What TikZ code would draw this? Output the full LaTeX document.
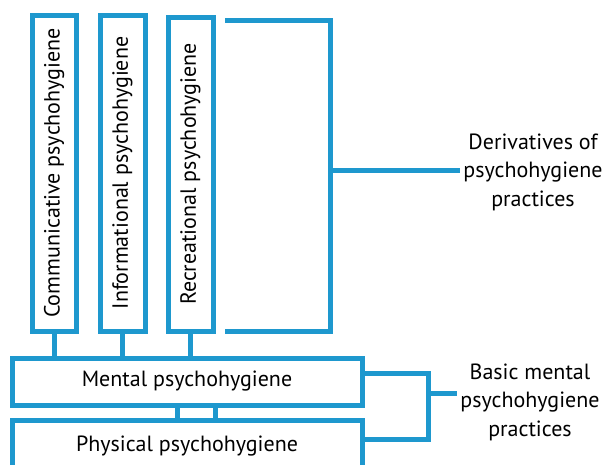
\documentclass[tikz,border=0pt]{standalone}
\usepackage{fontspec}
\setmainfont{PT Sans}
\usepackage{xcolor}
\usepackage{tikz}
\usetikzlibrary{positioning}

\definecolor{frameblue}{RGB}{30,152,206}

\tikzset{
 box/.style={draw=frameblue, line width=5pt, fill=white, inner sep=0pt},
 link/.style={draw=frameblue, line width=5pt},
 caption/.style={align=center, font=\fontsize{22}{28.5}\selectfont}
}

\begin{document}
\begin{tikzpicture}[x=1pt, y=-1pt]
% page: 608 x 464, y runs downwards
\path[use as bounding box, clip] (0,0) rectangle (608,464);

% Derivative practices (upright boxes)
\node[box, minimum width=44, minimum height=316] (comm) at (54,173)
 {\rotatebox{90}{\fontsize{22}{24}\selectfont Communicative psychohygiene}};
\node[box, minimum width=45, minimum height=316] (info) at (122.5,173)
 {\rotatebox{90}{\fontsize{22}{24}\selectfont Informational psychohygiene}};
\node[box, minimum width=45, minimum height=314] (recr) at (190.5,174)
 {\rotatebox{90}{\fontsize{22}{24}\selectfont Recreational psychohygiene}};

% Basic practices
\node[box, minimum width=350, minimum height=47, font=\fontsize{22}{24}\selectfont] (mental) at (187,381.5) {Mental psychohygiene};
\node[box, minimum width=350, minimum height=52, font=\fontsize{22}{24}\selectfont] (physical) at (187,446) {Physical psychohygiene};

% Labels
\node[caption] (deriv) at (533,172) {Derivatives of\\psychohygiene\\practices};
\node[caption] (basic) at (530,402) {Basic mental\\psychohygiene\\practices};

% stems into the mental box
\foreach \n in {comm,info,recr}
 \draw[link] (\n.south) -- (\n.south |- mental.north);

% mental -- physical
\coordinate (mp1) at (177,405);
\coordinate (mp2) at (215,405);
\draw[link] (mp1) -- (mp1 |- physical.north);
\draw[link] (mp2) -- (mp2 |- physical.north);

% bracket: derivatives
\coordinate (dtop) at (225,20);
\coordinate (dbot) at (225,331);
\coordinate (dmid) at (330,170);
\draw[link] (dtop) -| (dmid |- dbot) -- (dbot);
\draw[link] (dmid) -- (deriv.west |- dmid);

% bracket: basic
\coordinate (btop) at (428,373);
\coordinate (bbot) at (428,439);
\coordinate (bmid) at (428,393);
\draw[link] (mental.east |- btop) -- (btop) -- (bbot) -- (physical.east |- bbot);
\draw[link] (bmid) -- (basic.west |- bmid);
\end{tikzpicture}
\end{document}
